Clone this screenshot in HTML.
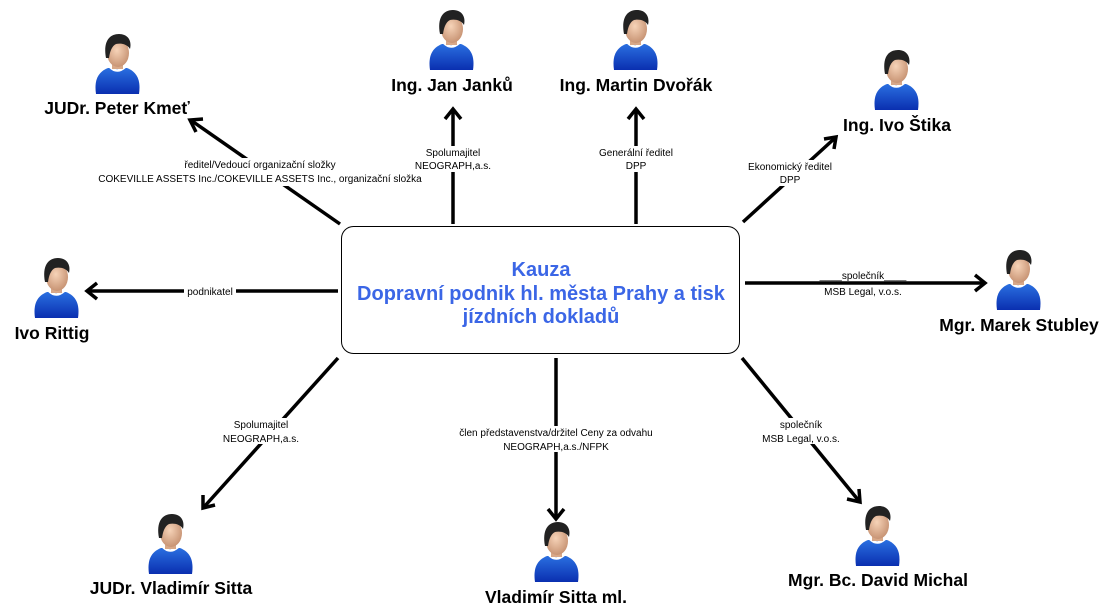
<!DOCTYPE html>
<html><head><meta charset="utf-8"><style>
html,body{margin:0;padding:0;background:#fff;}
svg{display:block;}
.n{font-family:"Liberation Sans",sans-serif;font-weight:bold;font-size:17.5px;fill:#000;text-anchor:middle;}
.l{font-family:"Liberation Sans",sans-serif;font-size:10px;fill:#000;text-anchor:middle;}
.c{font-family:"Liberation Sans",sans-serif;font-weight:bold;font-size:20px;fill:#3b66e6;text-anchor:middle;}
</style></head><body>
<svg width="1109" height="614" viewBox="0 0 1109 614" xmlns="http://www.w3.org/2000/svg">
<defs>
<linearGradient id="sh" x1="0" y1="0" x2="0" y2="1"><stop offset="0" stop-color="#2a6fe0"/><stop offset="1" stop-color="#0a2fb0"/></linearGradient>
<radialGradient id="sk" cx="0.45" cy="0.4" r="0.6"><stop offset="0" stop-color="#f6d3b8"/><stop offset="1" stop-color="#c89474"/></radialGradient>
<g id="p">
<path d="M2 60 C0 46 4 38 14 34 L33 34 C43 38 47 46 45 60 Z" fill="url(#sh)"/>
<path d="M16 33 Q23 40 31 33" fill="none" stroke="#fff" stroke-width="2.5"/>
<rect x="18" y="24" width="11" height="11" fill="#d8a888"/>
<ellipse cx="24" cy="19" rx="11" ry="14" fill="url(#sk)"/>
<path d="M12 24 C9 8 15 0 25 0 C34 0 38 7 36 15 C33 10 27 9 22 10 C18 12 16 17 15 24 Z" fill="#222"/>
</g>
</defs>
<g stroke="#000" stroke-width="3.5" fill="none">
<line x1="340" y1="224" x2="192" y2="121"/><polyline points="203,119 190,120 196,132"/>
<line x1="453" y1="224" x2="453" y2="110"/><polyline points="445,119 453,109 461,119"/>
<line x1="636" y1="224" x2="636" y2="110"/><polyline points="628,119 636,109 644,119"/>
<line x1="743" y1="222" x2="835" y2="138"/><polyline points="824,139 836,137 834,149"/>
<line x1="338" y1="291" x2="88" y2="291"/><polyline points="97,283 87,291 97,299"/>
<line x1="745" y1="283" x2="984" y2="283"/><polyline points="975,275 985,283 975,291"/>
<line x1="338" y1="358" x2="204" y2="507"/><polyline points="203,495 203,508 215,505"/>
<line x1="556" y1="358" x2="556" y2="518"/><polyline points="548,509 556,519 564,509"/>
<line x1="742" y1="358" x2="859" y2="501"/><polyline points="847,499 860,502 859,489"/>
</g>
<rect x="341.5" y="226.5" width="398" height="127" rx="12" fill="#fff" stroke="#000" stroke-width="1"/>
<text class="c" x="541" y="276">Kauza</text>
<text class="c" x="541" y="300">Dopravní podnik hl. města Prahy a tisk</text>
<text class="c" x="541" y="323">jízdních dokladů</text>
<g fill="#fff">
<rect x="96" y="158" width="328" height="28"/>
<rect x="418" y="146" width="70" height="26"/>
<rect x="592" y="146" width="88" height="26"/>
<rect x="742" y="160" width="96" height="26"/>
<rect x="184" y="285" width="52" height="12"/>
<rect x="817" y="268" width="80" height="11"/>
<rect x="817" y="285" width="92" height="12"/>
<rect x="226" y="418" width="70" height="26"/>
<rect x="448" y="426" width="216" height="26"/>
<rect x="756" y="418" width="90" height="26"/>
</g>
<text class="l" x="260" y="168">ředitel/Vedoucí organizační složky</text>
<text class="l" x="260" y="182">COKEVILLE ASSETS Inc./COKEVILLE ASSETS Inc., organizační složka</text>
<text class="l" x="453" y="156">Spolumajitel</text><text class="l" x="453" y="169">NEOGRAPH,a.s.</text>
<text class="l" x="636" y="156">Generální ředitel</text><text class="l" x="636" y="169">DPP</text>
<text class="l" x="790" y="170">Ekonomický ředitel</text><text class="l" x="790" y="183">DPP</text>
<text class="l" x="210" y="295">podnikatel</text>
<text class="l" x="863" y="279">____společník____</text><text class="l" x="863" y="295">MSB Legal, v.o.s.</text>
<text class="l" x="261" y="428">Spolumajitel</text><text class="l" x="261" y="442">NEOGRAPH,a.s.</text>
<text class="l" x="556" y="436">člen představenstva/držitel Ceny za odvahu</text><text class="l" x="556" y="450">NEOGRAPH,a.s./NFPK</text>
<text class="l" x="801" y="428">společník</text><text class="l" x="801" y="442">MSB Legal, v.o.s.</text>
<use href="#p" x="94" y="34"/><text class="n" x="117" y="114">JUDr. Peter Kmeť</text>
<use href="#p" x="428" y="10"/><text class="n" x="452" y="91">Ing. Jan Janků</text>
<use href="#p" x="612" y="10"/><text class="n" x="636" y="91">Ing. Martin Dvořák</text>
<use href="#p" x="873" y="50"/><text class="n" x="897" y="131">Ing. Ivo Štika</text>
<use href="#p" x="33" y="258"/><text class="n" x="52" y="339">Ivo Rittig</text>
<use href="#p" x="995" y="250"/><text class="n" x="1019" y="331">Mgr. Marek Stubley</text>
<use href="#p" x="147" y="514"/><text class="n" x="171" y="594">JUDr. Vladimír Sitta</text>
<use href="#p" x="533" y="522"/><text class="n" x="556" y="603">Vladimír Sitta ml.</text>
<use href="#p" x="854" y="506"/><text class="n" x="878" y="586">Mgr. Bc. David Michal</text>
</svg>
</body></html>
